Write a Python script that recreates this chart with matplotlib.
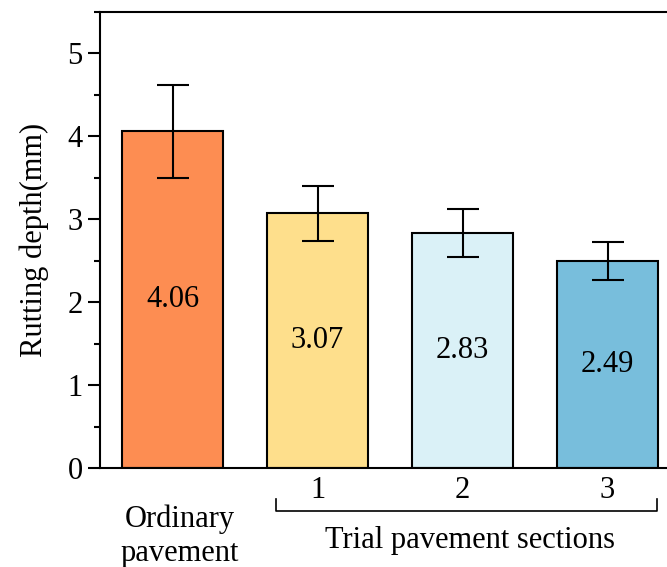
import matplotlib
matplotlib.use("Agg")
import matplotlib.pyplot as plt
from matplotlib.ticker import MultipleLocator
import matplotlib.transforms as mtransforms

categories = ["", "1", "2", "3"]
values = [4.06, 3.07, 2.83, 2.49]
errors = [0.56, 0.33, 0.29, 0.23]
colors = ["#FD8D52", "#FEDF8C", "#DAF1F7", "#78BEDC"]
value_labels = ["4.06", "3.07", "2.83", "2.49"]

plt.rcParams['font.family'] = ['Liberation Serif', 'DejaVu Serif']
plt.rcParams['font.size'] = 22

fig = plt.figure(figsize=(6.67, 5.67), dpi=100)
ax = fig.add_axes([0.15, 0.1746, 0.8696, 0.805])

x = list(range(len(values)))
ax.bar(x, values, width=0.7, color=colors, edgecolor="black", linewidth=1.5, zorder=2)
ax.errorbar(x, values, yerr=errors, fmt="none", ecolor="black", elinewidth=1.5,
            capsize=11.5, capthick=1.5, zorder=3)
for xi, v, lab in zip(x, values, value_labels):
    ax.text(xi, v / 2, lab, ha="center", va="center", fontsize=22, zorder=4)

ax.set_xlim(-0.5, 3.5)
ax.set_ylim(0, 5.5)
ax.yaxis.set_major_locator(MultipleLocator(1))
ax.yaxis.set_minor_locator(MultipleLocator(0.5))
ax.tick_params(axis="y", which="major", direction="out", length=8.5, width=1.5, labelsize=22, pad=4)
ax.tick_params(axis="y", which="minor", direction="out", length=4.5, width=1.5)
ax.set_xticks(x)
ax.set_xticklabels(categories)
ax.tick_params(axis="x", length=0, labelsize=22, pad=6)
for s in ax.spines.values():
    s.set_linewidth(1.5)

ax.set_ylabel("Rutting depth(mm)", fontsize=22, labelpad=13)

trans = mtransforms.blended_transform_factory(ax.transData, ax.transAxes)
ax.text(0.05, -0.149, "Ordinary\npavement", transform=trans, ha="center", va="center",
        fontsize=22, linespacing=1.25)
bx0, bx1 = 0.71, 3.34
ax.plot([bx0, bx0, bx1, bx1], [-0.068, -0.094, -0.094, -0.068], transform=trans,
        color="black", linewidth=1.2, clip_on=False)
ax.text(2.05, -0.158, "Trial pavement sections", transform=trans, ha="center", va="center",
        fontsize=22)

fig.savefig("out.png", dpi=100)
